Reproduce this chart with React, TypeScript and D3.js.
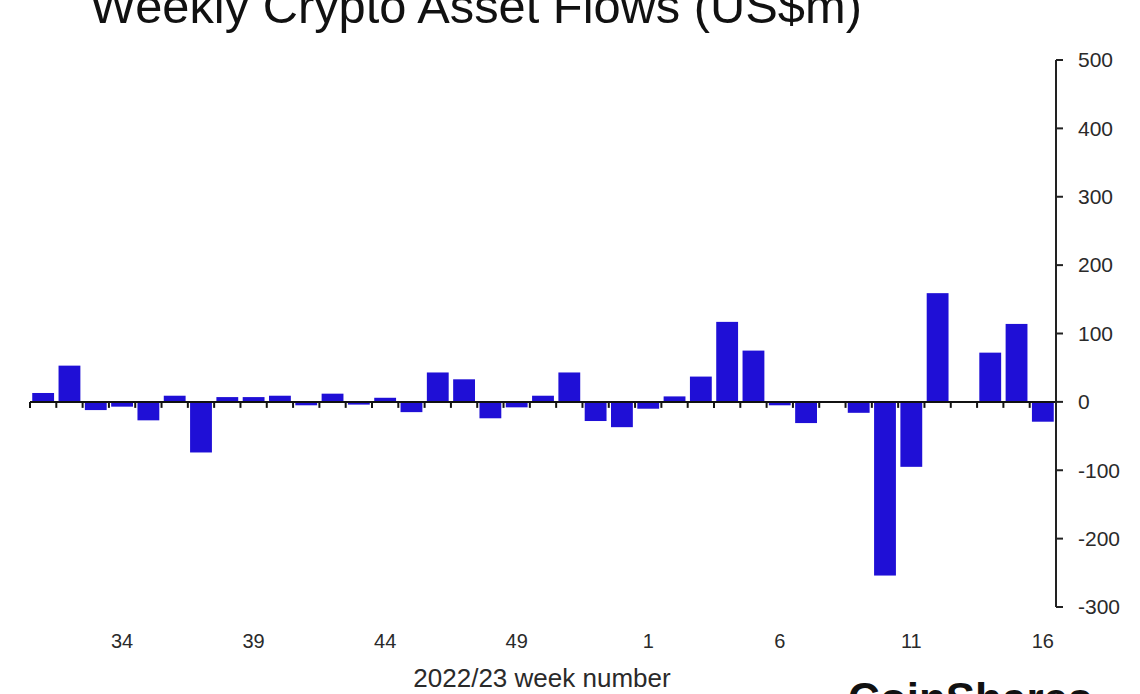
import React, { useEffect } from "react";
import * as d3 from "d3";

const weeks: number[] = [
  31, 32, 33, 34, 35, 36, 37, 38, 39, 40, 41, 42, 43, 44, 45, 46, 47, 48, 49, 50, 51, 52, 53,
  1, 2, 3, 4, 5, 6, 7, 8, 9, 10, 11, 12, 13, 14, 15, 16,
];
const flows: number[] = [
  13, 53, -12, -7, -27, 9, -74, 7, 7, 9, -5, 12, -4, 6, -15, 43, 33, -24, -8, 9, 43, -28, -37,
  -10, 8, 37, 117, 75, -5, -31, 0, -16, -254, -95, 159, 1, 72, 114, -29,
];
const labeledWeeks: number[] = [34, 39, 44, 49, 1, 6, 11, 16];
const yTicks: number[] = [500, 400, 300, 200, 100, 0, -100, -200, -300];

const W = 1140;
const H = 694;
const FONT = "'Liberation Sans', Arial, Helvetica, sans-serif";

export default function App() {
  useEffect(() => {
    document.body.style.margin = "0";
  }, []);

  const idx = d3.range(weeks.length);
  const x = d3
    .scaleBand<number>()
    .domain(idx)
    .range([30, 1056])
    .paddingInner(0.17)
    .paddingOuter(0.085);
  const y = d3.scaleLinear().domain([-300, 500]).range([607, 60]);
  const step = x.step();
  const x0 = 30;
  const zero = y(0);

  const boundaries = d3.range(weeks.length).map((i) => x0 + i * step);

  return (
    <svg width={W} height={H} style={{ display: "block", background: "#fff" }} fontFamily={FONT}>
      <text x={90} y={23} fontSize={48.8} fill="#111">
        Weekly Crypto Asset Flows (US$m)
      </text>

      {idx.map((i) => {
        const v = flows[i];
        const top = Math.min(y(v), zero);
        const h = Math.abs(y(v) - zero);
        return (
          <rect key={i} x={x(i)} y={top} width={x.bandwidth()} height={h} fill="#1f0fd6" />
        );
      })}

      {/* zero line */}
      <line x1={x0} x2={1056} y1={zero} y2={zero} stroke="#111" strokeWidth={2} />
      {boundaries.map((bx, i) => (
        <line key={i} x1={bx} x2={bx} y1={zero} y2={zero + 6} stroke="#111" strokeWidth={2} />
      ))}

      {/* y axis */}
      <line x1={1056} x2={1056} y1={y(500)} y2={y(-300)} stroke="#222" strokeWidth={2} />
      {yTicks.map((t) => (
        <g key={t}>
          <line x1={1056} x2={1063} y1={y(t)} y2={y(t)} stroke="#222" strokeWidth={2} />
          <text x={1078} y={y(t)} dy="0.35em" fontSize={21} fill="#2a2a2a">
            {t}
          </text>
        </g>
      ))}

      {/* x labels */}
      {idx
        .filter((i) => labeledWeeks.includes(weeks[i]) && !(weeks[i] === 1 && i < 20))
        .map((i) => (
          <text
            key={i}
            x={(x(i) as number) + x.bandwidth() / 2}
            y={648}
            fontSize={20}
            textAnchor="middle"
            fill="#2a2a2a"
          >
            {weeks[i]}
          </text>
        ))}

      <text x={542} y={687} fontSize={26} textAnchor="middle" fill="#2a2a2a">
        2022/23 week number
      </text>

      <text x={848} y={714} fontSize={44} fontWeight="bold" fill="#111">
        CoinShares
      </text>
    </svg>
  );
}
